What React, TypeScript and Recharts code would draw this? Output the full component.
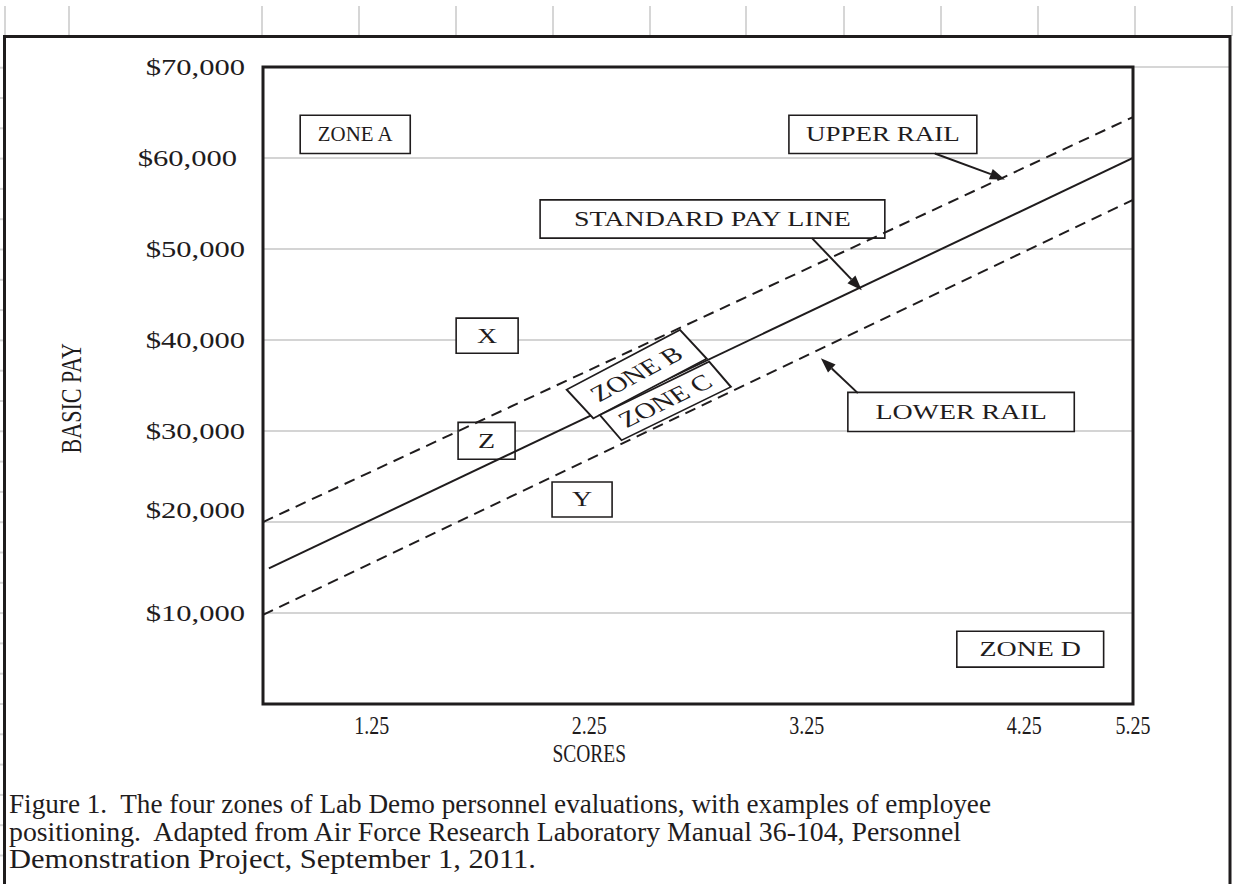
import React from 'react';
import {
  LineChart,
  Line,
  XAxis,
  YAxis,
  CartesianGrid,
  ReferenceArea,
  ReferenceLine,
  ReferenceDot,
} from 'recharts';

// ---------- data ----------
// score axis: tick positions and the labels printed under them
const xTicks = [1.25, 2.25, 3.25, 4.25, 4.75];
const xTickLabels = ['1.25', '2.25', '3.25', '4.25', '5.25'];
const yTicks = [10000, 20000, 30000, 40000, 50000, 60000, 70000];

const standardPayLine = [
  { x: 0.777, y: 14900 },
  { x: 4.75, y: 60000 },
];
const upperRail = [
  { x: 0.75, y: 20000 },
  { x: 4.75, y: 64500 },
];
const lowerRail = [
  { x: 0.75, y: 9800 },
  { x: 4.75, y: 55400 },
];

// text boxes placed in data units (score, pay)
const textBoxes = [
  { text: 'ZONE A', x1: 0.921, x2: 1.427, y1: 60500, y2: 64700 },
  { text: 'UPPER RAIL', x1: 3.168, x2: 4.032, y1: 60500, y2: 64700 },
  { text: 'STANDARD PAY LINE', x1: 2.024, x2: 3.609, y1: 51200, y2: 55400 },
  { text: 'X', x1: 1.638, x2: 1.923, y1: 38550, y2: 42400 },
  { text: 'Z', x1: 1.647, x2: 1.909, y1: 26900, y2: 30950 },
  { text: 'Y', x1: 2.079, x2: 2.355, y1: 20550, y2: 24400 },
  { text: 'LOWER RAIL', x1: 3.439, x2: 4.48, y1: 29950, y2: 34250 },
  { text: 'ZONE D', x1: 3.94, x2: 4.615, y1: 4050, y2: 8000 },
];

// tilted zone boxes along the pay line (center in data units)
const tiltedBoxes = [
  { text: 'ZONE B', x: 2.468, y: 36250, w: 104, h: 35, angle: -35 },
  { text: 'ZONE C', x: 2.6, y: 33300, w: 98, h: 30, angle: -33 },
];

// callout arrows (from -> to, data units)
const arrows = [
  { from: { x: 3.839, y: 60500 }, to: { x: 4.161, y: 57650 } },
  { from: { x: 3.274, y: 51200 }, to: { x: 3.503, y: 45470 } },
  { from: { x: 3.485, y: 34160 }, to: { x: 3.315, y: 38000 } },
];

const captionLines = [
  'Figure 1.  The four zones of Lab Demo personnel evaluations, with examples of employee',
  'positioning.  Adapted from Air Force Research Laboratory Manual 36-104, Personnel',
  'Demonstration Project, September 1, 2011.',
];
const captionWidths = [982, 952, 527];

// ---------- style ----------
const FONT = '"Liberation Serif", "Times New Roman", serif';
const INK = '#1f1c1d';
const WIDE = 1.33;

let measureCtx: CanvasRenderingContext2D | null = null;
const measure = (text: string, size: number) => {
  if (!measureCtx) measureCtx = document.createElement('canvas').getContext('2d');
  if (!measureCtx) return text.length * size * 0.55;
  measureCtx.font = `${size}px "Liberation Serif"`;
  return measureCtx.measureText(text).width;
};

const fmtMoney = (v: number) => '$' + v.toLocaleString('en-US');

const YTick = (props: any) => {
  const { x, y, payload } = props;
  const v = payload.value as number;
  const dx = v === 60000 ? -8 : 0;
  const dy = v === 20000 ? -12 : 0;
  return (
    <g transform={`translate(${x + dx},${y + dy}) scale(${WIDE},1)`}>
      <text x={0} y={0} dy={7.5} textAnchor="end" fontFamily={FONT} fontSize={23} fill={INK}>
        {fmtMoney(v)}
      </text>
    </g>
  );
};

const XTick = (props: any) => {
  const { x, y, payload, index } = props;
  const i = xTicks.indexOf(payload.value);
  const label = xTickLabels[i >= 0 ? i : index];
  return (
    <g transform={`translate(${x},${y}) scale(0.8,1)`}>
      <text x={0} y={0} dy={28} textAnchor="middle" fontFamily={FONT} fontSize={25} fill={INK}>
        {label}
      </text>
    </g>
  );
};

const BoxLabel = (props: any) => {
  const { viewBox, value } = props;
  if (!viewBox) return null;
  const cx = viewBox.x + viewBox.width / 2;
  const cy = viewBox.y + viewBox.height / 2;
  const t = String(value);
  const natural = measure(t, 21);
  const avail = Math.abs(viewBox.width) - 34;
  const sx = t.length > 1 && natural * WIDE > avail ? avail / natural : WIDE;
  return (
    <g transform={`translate(${cx},${cy}) scale(${sx},1)`}>
      <text x={0} y={0} dy={7} textAnchor="middle" fontFamily={FONT} fontSize={21} fill={INK}>
        {t}
      </text>
    </g>
  );
};

const makeTilted = (b: (typeof tiltedBoxes)[number]) => (props: any) => {
  const { cx, cy } = props;
  if (cx == null || cy == null) return null;
  return (
    <g transform={`translate(${cx},${cy}) scale(${WIDE},1) rotate(${b.angle})`}>
      <rect
        x={-b.w / 2}
        y={-b.h / 2}
        width={b.w}
        height={b.h}
        fill="#fff"
        stroke={INK}
        strokeWidth={1.6}
      />
      <text x={0} y={0} dy={7} textAnchor="middle" fontFamily={FONT} fontSize={22} fill={INK}>
        {b.text}
      </text>
    </g>
  );
};

const ArrowShape = (props: any) => {
  const { x1, y1, x2, y2 } = props;
  if ([x1, y1, x2, y2].some((v) => v == null || Number.isNaN(v))) return null;
  const ang = Math.atan2(y2 - y1, x2 - x1);
  const len = 15;
  const half = 5.5;
  const bx = x2 - len * Math.cos(ang);
  const by = y2 - len * Math.sin(ang);
  const px = -Math.sin(ang) * half;
  const py = Math.cos(ang) * half;
  return (
    <g>
      <line x1={x1} y1={y1} x2={bx} y2={by} stroke={INK} strokeWidth={2} />
      <polygon points={`${x2},${y2} ${bx + px},${by + py} ${bx - px},${by - py}`} fill={INK} />
    </g>
  );
};

// spreadsheet cell lines around the figure
const colLines = [5, 69, 262, 359, 456, 553, 650, 746, 844, 941, 1038, 1135, 1232];
const rowLines = Array.from({ length: 27 }, (_, i) => 67.7 + i * 30.3);

export default function App() {
  return (
    <div style={{ position: 'absolute', left: 0, top: 0, width: 1238, height: 884, background: '#fff' }}>
      <svg width={1238} height={884} style={{ position: 'absolute', left: 0, top: 0 }}>
        {colLines.map((x) => (
          <line key={'c' + x} x1={x} y1={6} x2={x} y2={36} stroke="#d6d6d6" strokeWidth={2} />
        ))}
        {rowLines.map((y) => (
          <line key={'r' + y} x1={0} y1={y} x2={3} y2={y} stroke="#d6d6d6" strokeWidth={2} />
        ))}
        <line x1={1133} y1={67} x2={1230} y2={67} stroke="#d6d6d6" strokeWidth={2} />
        <polyline points="4.5,884 4.5,36.5 1230,36.5 1230,884" fill="none" stroke={INK} strokeWidth={3} />
        {captionLines.map((t, i) => (
          <text
            key={i}
            x={9}
            y={813 + i * 27.5}
            fontFamily={FONT}
            fontSize={27}
            fill={INK}
            style={{ whiteSpace: 'pre' }}
            textLength={captionWidths[i]}
            lengthAdjust="spacingAndGlyphs"
          >
            {t}
          </text>
        ))}
      </svg>
      <div style={{ position: 'absolute', left: 0, top: 0 }}>
        <LineChart width={1238} height={884} margin={{ top: 67, right: 105, bottom: 130, left: 163 }}>
          <CartesianGrid vertical={false} stroke="#d4d4d4" strokeWidth={2} />
          <XAxis
            type="number"
            dataKey="x"
            domain={[0.75, 4.75]}
            ticks={xTicks}
            interval={0}
            allowDataOverflow
            axisLine={false}
            tickLine={false}
            tickSize={0}
            tick={<XTick />}
            height={50}
            label={{
              value: 'SCORES',
              content: (p: any) => {
                const vb = p.viewBox;
                const cx = vb.x + vb.width * 0.375;
                return (
                  <g transform={`translate(${cx},${762}) scale(0.78,1)`}>
                    <text x={0} y={0} textAnchor="middle" fontFamily={FONT} fontSize={25} fill={INK}>
                      SCORES
                    </text>
                  </g>
                );
              },
            }}
          />
          <YAxis
            type="number"
            domain={[0, 70000]}
            ticks={yTicks}
            interval={0}
            width={100}
            axisLine={false}
            tickLine={false}
            tickSize={0}
            tickMargin={18}
            tick={<YTick />}
            label={{
              value: 'BASIC PAY',
              content: (p: any) => {
                const vb = p.viewBox;
                const cy = vb.y + vb.height * 0.52;
                return (
                  <g transform={`translate(${71},${cy}) rotate(-90) scale(0.76,1)`}>
                    <text x={0} y={0} dy={10} textAnchor="middle" fontFamily={FONT} fontSize={29} fill={INK}>
                      BASIC PAY
                    </text>
                  </g>
                );
              },
            }}
          />
          <Line
            data={upperRail}
            dataKey="y"
            type="linear"
            stroke={INK}
            strokeWidth={2}
            strokeDasharray="11 7"
            dot={false}
            activeDot={false}
            isAnimationActive={false}
          />
          <Line
            data={lowerRail}
            dataKey="y"
            type="linear"
            stroke={INK}
            strokeWidth={2}
            strokeDasharray="11 7"
            dot={false}
            activeDot={false}
            isAnimationActive={false}
          />
          <Line
            data={standardPayLine}
            dataKey="y"
            type="linear"
            stroke={INK}
            strokeWidth={2}
            dot={false}
            activeDot={false}
            isAnimationActive={false}
          />
          {tiltedBoxes.map((b) => (
            <ReferenceDot key={b.text} x={b.x} y={b.y} r={0} shape={makeTilted(b)} ifOverflow="visible" />
          ))}
          {textBoxes.map((b) => (
            <ReferenceArea
              key={b.text}
              x1={b.x1}
              x2={b.x2}
              y1={b.y1}
              y2={b.y2}
              fill="#fff"
              fillOpacity={1}
              stroke={INK}
              strokeWidth={1.6}
              ifOverflow="visible"
              label={<BoxLabel value={b.text} />}
            />
          ))}
          {arrows.map((a, i) => (
            <ReferenceLine key={i} segment={[a.from, a.to]} shape={<ArrowShape />} ifOverflow="visible" />
          ))}
          <ReferenceArea
            x1={0.75}
            x2={4.75}
            y1={0}
            y2={70000}
            fill="none"
            stroke={INK}
            strokeWidth={3}
            ifOverflow="visible"
          />
        </LineChart>
      </div>
    </div>
  );
}
